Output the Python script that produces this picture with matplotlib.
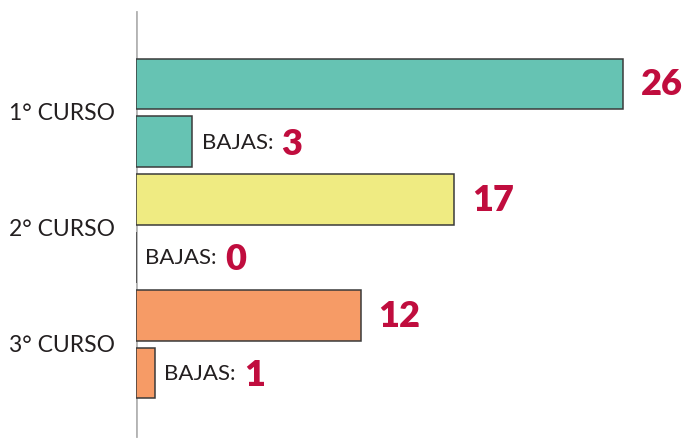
import matplotlib.pyplot as plt

cursos = ['1° CURSO', '2° CURSO', '3° CURSO']
alumnos = [26, 17, 12]
bajas = [3, 0, 1]
colores = ['#66C3B3', '#EFEB82', '#F69B66']

plt.rcParams['font.family'] = ['Lato', 'DejaVu Sans']
rojo = '#C00D3E'

fig = plt.figure(figsize=(6.88, 4.39), dpi=100)
ax = fig.add_axes([136 / 688, 0, 1 - 136 / 688, 1])
ax.set_xlim(0, 29.47)
ax.set_ylim(6.125, -1.47)
ax.axis('off')

# eje vertical gris
ax.axvline(0, ymin=0.005, ymax=0.97, color='#b3b3b3', lw=2, zorder=1)

for i in range(len(cursos)):
    y1 = 2 * i
    y2 = 2 * i + 1
    ax.barh(y1, alumnos[i], height=0.88, color=colores[i], edgecolor='#3a3a3a', lw=1.1, zorder=2)
    ax.barh(y2, bajas[i], height=0.88, color=colores[i], edgecolor='#3a3a3a', lw=1.1, zorder=2)

    ax.text(alumnos[i] + 0.95, y1, str(alumnos[i]), color=rojo, fontsize=26,
            fontweight='heavy', va='center', ha='left')

    t = ax.text(bajas[i] + 0.5, y2, 'BAJAS:', color='#231f20', fontsize=16,
                va='center', ha='left')
    ax.annotate(str(bajas[i]), xy=(1, 0.5), xycoords=t, xytext=(6, -1),
                textcoords='offset points', color=rojo, fontsize=26,
                fontweight='heavy', va='center', ha='left')

    ax.text(-1.1, y1 + 0.5, cursos[i], color='#231f20', fontsize=16.5,
            va='center', ha='right')

fig.savefig('out.png', dpi=100)
